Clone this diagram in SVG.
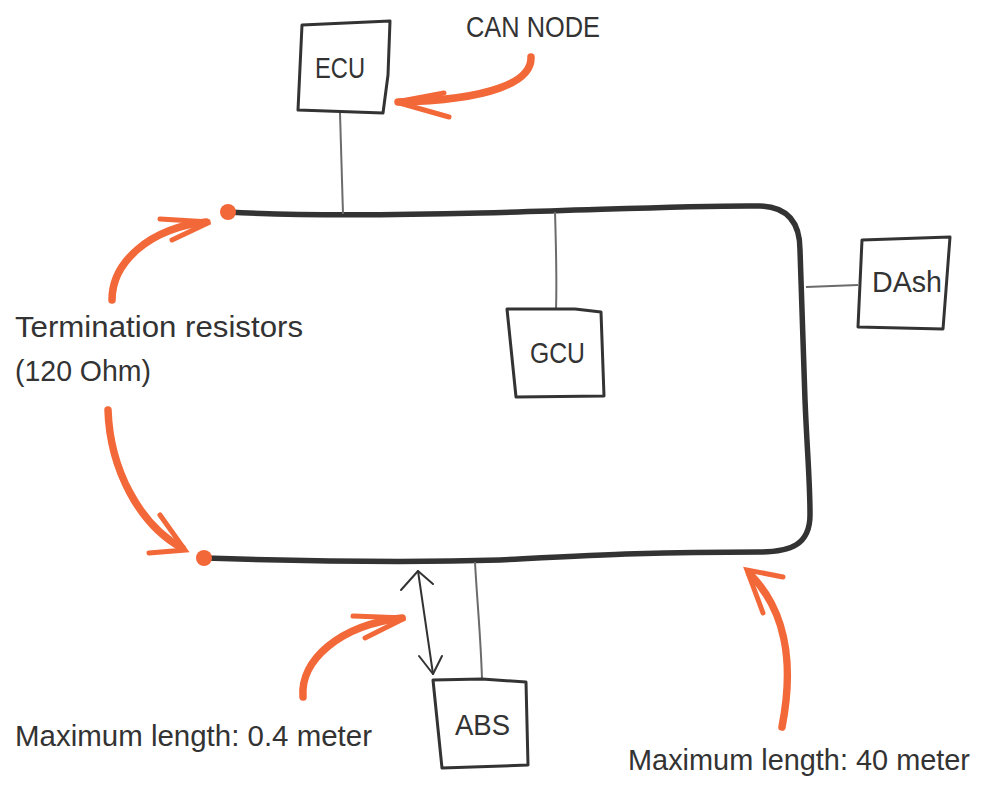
<svg xmlns="http://www.w3.org/2000/svg" width="982" height="787" viewBox="0 0 982 787">
  <style>
    .box { fill: #fff; stroke: #333; stroke-width: 3; stroke-linejoin: round; }
    .tap { fill: none; stroke: #6b6b6b; stroke-width: 2; }
    .bus { fill: none; stroke: #333; stroke-width: 5.5; stroke-linecap: round; stroke-linejoin: round; }
    .brush { fill: none; stroke: #f26838; stroke-width: 7.5; stroke-linecap: round; }
    .head { fill: none; stroke: #f26838; stroke-width: 5; stroke-linecap: round; stroke-linejoin: miter; }
    .dim { fill: none; stroke: #333; stroke-width: 2; stroke-linecap: round; stroke-linejoin: round; }
    .lbl { font-family: "Liberation Sans", "DejaVu Sans", sans-serif; font-size: 29px; fill: #333; }
    .node { font-family: "Liberation Sans", "DejaVu Sans", sans-serif; font-size: 29px; fill: #333; }
  </style>

  <!-- CAN bus backbone, stub lines and termination points -->
  <g id="connectors">
    <path class="bus" d="M228,212 C300,216 400,215 480,213 C600,210 700,205 760,206 C790,207 800,225 800,250 L805,400 C807,450 810,480 810,515 C810,545 790,552 760,552 C650,552 600,555 500,560 C400,563 300,561 205,558"/>
    <circle cx="228" cy="212" r="8" fill="#f26838"/>
    <circle cx="204" cy="558" r="8" fill="#f26838"/>

    <path class="tap" d="M340,113 C341,150 342,185 343,214"/>
    <path class="tap" d="M555,212 C556,245 557,280 556,309"/>
    <path class="tap" d="M806,287 L858,285"/>
    <path class="tap" d="M475,562 C477,600 481,640 482,680"/>

    <!-- stub length dimension -->
    <path class="dim" d="M418,571 L433,674"/>
    <path class="dim" d="M401,590 L418,571 L433,584"/>
    <path class="dim" d="M419,656 L433,674 L442,656"/>

    <!-- annotation arrows -->
    <path class="brush" d="M531,57 C532,82 490,100 398,102"/>
    <path class="head" d="M444,93 L396,102 L449,117"/>

    <path class="brush" d="M112,300 C112,262 150,228 206,222"/>
    <path class="head" d="M160,219 L210,222 L172,240"/>

    <path class="brush" d="M108,410 C110,470 140,525 182,548"/>
    <path class="head" d="M160,515 L185,550 L149,553"/>

    <path class="brush" d="M303,697 C300,660 340,625 402,618"/>
    <path class="head" d="M353,616 L405,618 L365,638"/>

    <path class="brush" d="M782,727 C795,660 785,610 750,574"/>
    <path class="head" d="M783,577 L747,570 L763,613"/>
  </g>

  <g id="ecu">
    <path class="box" d="M302,25 L390,21 L388,75 L383,113 L298,110 Z"/>
    <text class="node" x="315" y="78" textLength="50" lengthAdjust="spacingAndGlyphs">ECU</text>
  </g>

  <g id="gcu">
    <path class="box" d="M507,309 L575,309 L601,312 L604,396 L516,397 Z"/>
    <text class="node" x="530" y="363" textLength="55" lengthAdjust="spacingAndGlyphs">GCU</text>
  </g>

  <g id="dash">
    <path class="box" d="M862,240 L950,237 L946,290 L943,329 L858,327 Z"/>
    <text class="node" x="872" y="292" textLength="70" lengthAdjust="spacingAndGlyphs">DAsh</text>
  </g>

  <g id="abs">
    <path class="box" d="M433,680 L482,679 L526,682 L528,765 L442,768 Z"/>
    <text class="node" x="455" y="735" textLength="55" lengthAdjust="spacingAndGlyphs">ABS</text>
  </g>

  <!-- annotation labels -->
  <g id="labels">
    <text class="lbl" x="466" y="37" textLength="134" lengthAdjust="spacingAndGlyphs">CAN NODE</text>
    <text class="lbl" x="15" y="337" textLength="288" lengthAdjust="spacingAndGlyphs">Termination resistors</text>
    <text class="lbl" x="15" y="381" textLength="136" lengthAdjust="spacingAndGlyphs">(120 Ohm)</text>
    <text class="lbl" x="15" y="746" textLength="357" lengthAdjust="spacingAndGlyphs">Maximum length: 0.4 meter</text>
    <text class="lbl" x="628" y="770" textLength="342" lengthAdjust="spacingAndGlyphs">Maximum length: 40 meter</text>
  </g>
</svg>
